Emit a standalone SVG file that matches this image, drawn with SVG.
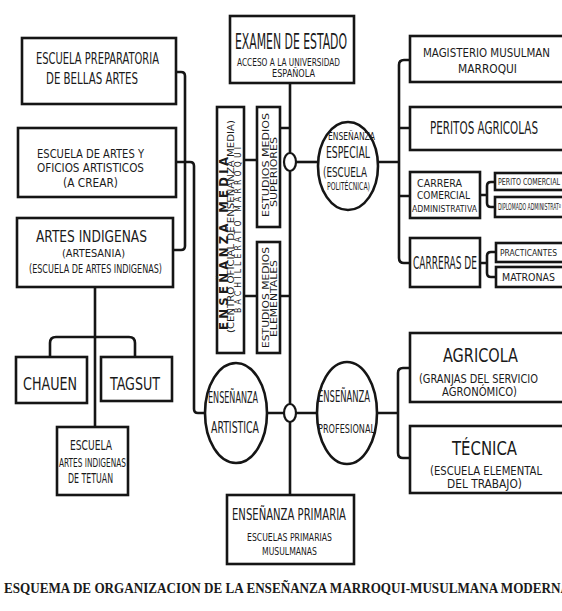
<svg xmlns="http://www.w3.org/2000/svg" width="562" height="611" viewBox="0 0 562 611">
<style>
rect,ellipse.n{fill:#fff;stroke:#151515;stroke-width:2.6}
ellipse.j{fill:#fff;stroke:#151515;stroke-width:2.2}
#connectors path{fill:none;stroke:#151515;stroke-width:2.6}
text{font-family:'DejaVu Sans Condensed','DejaVu Sans',sans-serif;font-stretch:condensed;fill:#1a1a1a}
.cap{font-family:'Liberation Serif',serif;font-weight:bold;font-stretch:normal}
</style>
<rect x="0" y="0" width="562" height="611" style="fill:#fff;stroke:none"/>
<g id="connectors">
<path d="M176,72 H181 Q185,72 185,76 V246 Q185,250 181,250 H173"/>
<path d="M176,162 H190 Q194,162 194,166 V409 Q194,413 198,413 H205"/>
<path d="M95,287 V427"/>
<path d="M50,357 V343 Q50,337 56,337 H129 Q135,337 135,343 V357"/>
<path d="M290,83 V153 M290,171 V404 M290,422 V495"/>
<path d="M267,413 H284 M296,413 H317"/>
<path d="M296,162 H318"/>
<path d="M244,160 H257 M280,128 H290 M244,296 H257 M280,296 H290"/>
<path d="M377,413 H398 M410,368 H403 Q398,368 398,373 V453 Q398,458 403,458 H410"/>
<path d="M378,162 H399 M410,60 H404 Q399,60 399,65 V258 Q399,263 404,263 H410 M399,128 H410 M399,196 H410"/>
<path d="M480,195 H487 M495,182 H491 Q487,182 487,186 V203 Q487,207 491,207 H495"/>
<path d="M480,263 H487 M496,252 H491 Q487,252 487,256 V273 Q487,277 491,277 H496"/>
</g>
<g id="junction-especial"><ellipse class="j" cx="290" cy="162" rx="6" ry="9"/></g>
<g id="junction-artistica"><ellipse class="j" cx="290" cy="413" rx="6" ry="9"/></g>
<g id="preparatoria">
<rect x="22" y="38" width="154" height="66"/>
<text x="36" y="64" font-size="16" textLength="123" lengthAdjust="spacingAndGlyphs">ESCUELA PREPARATORIA</text>
<text x="46" y="84" font-size="16" textLength="92" lengthAdjust="spacingAndGlyphs">DE BELLAS ARTES</text>
</g>
<g id="artes-oficios">
<rect x="18" y="128" width="158" height="69"/>
<text x="37" y="158" font-size="13" textLength="107" lengthAdjust="spacingAndGlyphs">ESCUELA DE ARTES Y</text>
<text x="37" y="172" font-size="13" textLength="107" lengthAdjust="spacingAndGlyphs">OFICIOS ARTISTICOS</text>
<text x="63" y="187" font-size="12" textLength="55" lengthAdjust="spacingAndGlyphs">(A CREAR)</text>
</g>
<g id="artes-indigenas">
<rect x="17" y="218" width="156" height="69"/>
<text x="36" y="242" font-size="16" textLength="111" lengthAdjust="spacingAndGlyphs">ARTES INDIGENAS</text>
<text x="62" y="257" font-size="10" textLength="63" lengthAdjust="spacingAndGlyphs">(ARTESANIA)</text>
<text x="29" y="273" font-size="12" textLength="133" lengthAdjust="spacingAndGlyphs">(ESCUELA DE ARTES INDIGENAS)</text>
</g>
<g id="chauen">
<rect x="16" y="357" width="71" height="46"/>
<text x="23" y="390" font-size="17" textLength="54" lengthAdjust="spacingAndGlyphs">CHAUEN</text>
</g>
<g id="tagsut">
<rect x="101" y="357" width="71" height="44"/>
<text x="110" y="390" font-size="17" textLength="50" lengthAdjust="spacingAndGlyphs">TAGSUT</text>
</g>
<g id="tetuan">
<rect x="57" y="427" width="71" height="68"/>
<text x="70" y="450" font-size="14" textLength="42" lengthAdjust="spacingAndGlyphs">ESCUELA</text>
<text x="59" y="467" font-size="13" textLength="67" lengthAdjust="spacingAndGlyphs">ARTES INDIGENAS</text>
<text x="68" y="483" font-size="14" textLength="45" lengthAdjust="spacingAndGlyphs">DE TETUAN</text>
</g>
<g id="examen">
<rect x="230" y="16" width="124" height="67"/>
<text x="235" y="49" font-size="22" textLength="112" lengthAdjust="spacingAndGlyphs">EXAMEN DE ESTADO</text>
<text x="237" y="66" font-size="10" textLength="103" lengthAdjust="spacingAndGlyphs">ACCESO A LA UNIVERSIDAD</text>
<text x="272" y="77" font-size="10" textLength="43" lengthAdjust="spacingAndGlyphs">ESPAÑOLA</text>
</g>
<g id="media">
<rect x="217" y="107" width="27" height="246"/>
<text transform="translate(227.5,330) rotate(-90)" font-size="13" font-weight="bold" textLength="173" lengthAdjust="spacing">ENSEÑANZA MEDIA</text>
<text transform="translate(234,333) rotate(-90)" font-size="8.5" textLength="213" lengthAdjust="spacingAndGlyphs">(CENTRO OFICIAL DE ENSEÑANZA MEDIA)</text>
<text transform="translate(241,313) rotate(-90)" font-size="8.5" textLength="166" lengthAdjust="spacing">BACHILLERATO MARROQUI</text>
</g>
<g id="superiores">
<rect x="257" y="107" width="23" height="120"/>
<text transform="translate(268.5,217) rotate(-90)" font-size="9" textLength="104" lengthAdjust="spacingAndGlyphs">ESTUDIOS MEDIOS</text>
<text transform="translate(276.5,207) rotate(-90)" font-size="9" textLength="70" lengthAdjust="spacingAndGlyphs">SUPERIORES</text>
</g>
<g id="elementales">
<rect x="257" y="242" width="23" height="111"/>
<text transform="translate(268.5,348) rotate(-90)" font-size="9" textLength="101" lengthAdjust="spacingAndGlyphs">ESTUDIOS MEDIOS</text>
<text transform="translate(276.5,337) rotate(-90)" font-size="9" textLength="77" lengthAdjust="spacingAndGlyphs">ELEMENTALES</text>
</g>
<g id="especial">
<ellipse class="n" cx="348" cy="166" rx="30" ry="44"/>
<text x="328" y="140" font-size="10" textLength="47" lengthAdjust="spacingAndGlyphs">ENSEÑANZA</text>
<text x="326" y="158" font-size="15" textLength="44" lengthAdjust="spacingAndGlyphs">ESPECIAL</text>
<text x="323" y="177" font-size="14" textLength="44" lengthAdjust="spacingAndGlyphs">(ESCUELA</text>
<text x="327" y="190" font-size="10" textLength="43" lengthAdjust="spacingAndGlyphs">POLITÉCNICA)</text>
</g>
<g id="artistica">
<ellipse class="n" cx="236" cy="413" rx="31" ry="50"/>
<text x="208" y="403" font-size="15" textLength="50" lengthAdjust="spacingAndGlyphs">ENSEÑANZA</text>
<text x="211" y="433" font-size="16" textLength="48" lengthAdjust="spacingAndGlyphs">ARTISTICA</text>
</g>
<g id="profesional">
<ellipse class="n" cx="347" cy="413" rx="30" ry="51"/>
<text x="318" y="402" font-size="15" textLength="52" lengthAdjust="spacingAndGlyphs">ENSEÑANZA</text>
<text x="318" y="433" font-size="13" textLength="57" lengthAdjust="spacingAndGlyphs">PROFESIONAL</text>
</g>
<g id="primaria">
<rect x="227" y="495" width="127" height="69"/>
<text x="232" y="520" font-size="16" textLength="114" lengthAdjust="spacingAndGlyphs">ENSEÑANZA PRIMARIA</text>
<text x="247" y="541" font-size="11" textLength="85" lengthAdjust="spacingAndGlyphs">ESCUELAS PRIMARIAS</text>
<text x="262" y="555" font-size="11" textLength="55" lengthAdjust="spacingAndGlyphs">MUSULMANAS</text>
</g>
<g id="magisterio">
<rect x="410" y="36" width="160" height="46"/>
<text x="423" y="57" font-size="13" textLength="127" lengthAdjust="spacingAndGlyphs">MAGISTERIO MUSULMAN</text>
<text x="458" y="73" font-size="13" textLength="59" lengthAdjust="spacingAndGlyphs">MARROQUI</text>
</g>
<g id="peritos-agricolas">
<rect x="410" y="107" width="160" height="43"/>
<text x="430" y="134" font-size="17" textLength="108" lengthAdjust="spacingAndGlyphs">PERITOS AGRICOLAS</text>
</g>
<g id="carrera-comercial">
<rect x="410" y="172" width="70" height="46"/>
<text x="417" y="187" font-size="11" textLength="45" lengthAdjust="spacingAndGlyphs">CARRERA</text>
<text x="417" y="199" font-size="11" textLength="53" lengthAdjust="spacingAndGlyphs">COMERCIAL</text>
<text x="412" y="212" font-size="9" textLength="65" lengthAdjust="spacingAndGlyphs">ADMINISTRATIVA</text>
</g>
<g id="perito-comercial">
<rect x="495" y="173" width="75" height="17"/>
<text x="498" y="185" font-size="8" textLength="62" lengthAdjust="spacingAndGlyphs">PERITO COMERCIAL</text>
</g>
<g id="diplomado">
<rect x="495" y="197" width="75" height="20"/>
<text x="498" y="210" font-size="8" textLength="63" lengthAdjust="spacingAndGlyphs">DIPLOMADO ADMINISTRATº</text>
</g>
<g id="carreras-de">
<rect x="410" y="238" width="70" height="49"/>
<text x="413" y="269" font-size="17" textLength="64" lengthAdjust="spacingAndGlyphs">CARRERAS DE</text>
</g>
<g id="practicantes">
<rect x="496" y="243" width="75" height="19"/>
<text x="500" y="256" font-size="9" textLength="57" lengthAdjust="spacingAndGlyphs">PRACTICANTES</text>
</g>
<g id="matronas">
<rect x="496" y="267" width="75" height="20"/>
<text x="502" y="281" font-size="10" textLength="53" lengthAdjust="spacingAndGlyphs">MATRONAS</text>
</g>
<g id="agricola">
<rect x="410" y="333" width="160" height="69"/>
<text x="443" y="362" font-size="20" textLength="75" lengthAdjust="spacingAndGlyphs">AGRICOLA</text>
<text x="419" y="383" font-size="13" textLength="119" lengthAdjust="spacingAndGlyphs">(GRANJAS DEL SERVICIO</text>
<text x="442" y="396" font-size="12" textLength="75" lengthAdjust="spacingAndGlyphs">AGRONÓMICO)</text>
</g>
<g id="tecnica">
<rect x="410" y="426" width="160" height="67"/>
<text x="452" y="455" font-size="20" textLength="65" lengthAdjust="spacingAndGlyphs">TÉCNICA</text>
<text x="430" y="475" font-size="13" textLength="112" lengthAdjust="spacingAndGlyphs">(ESCUELA ELEMENTAL</text>
<text x="447" y="488" font-size="12" textLength="75" lengthAdjust="spacingAndGlyphs">DEL TRABAJO)</text>
</g>
<text class="cap" x="4" y="593" font-size="15" textLength="566" lengthAdjust="spacingAndGlyphs">ESQUEMA DE ORGANIZACION DE LA ENSEÑANZA MARROQUI-MUSULMANA MODERNA</text>
</svg>
